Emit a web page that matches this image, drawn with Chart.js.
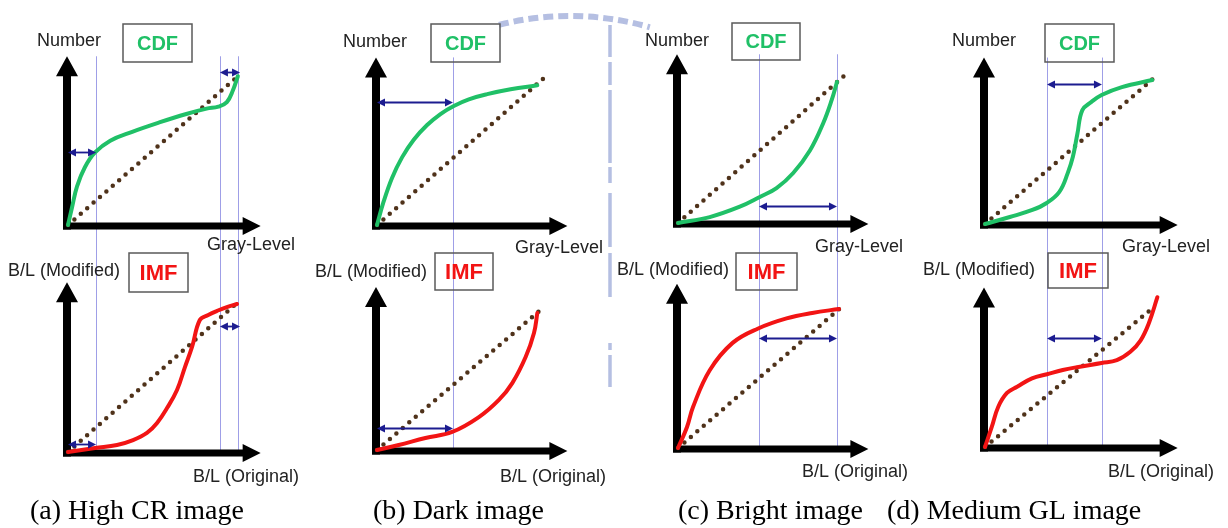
<!DOCTYPE html>
<html>
<head>
<meta charset="utf-8">
<script src="https://cdn.jsdelivr.net/npm/chart.js@4.4.1/dist/chart.umd.min.js"></script>
<style>
  html, body { margin: 0; padding: 0; background: #fff; }
  #wrap { position: relative; width: 1228px; height: 528px; overflow: hidden; }
  #wrap canvas { position: absolute; left: 0; top: 0; }
</style>
</head>
<body>
<div id="wrap"></div>
<script>
// captions of the four cases
const captions = ['(a) High CR image', '(b) Dark image', '(c) Bright image', '(d) Medium GL image'];

// reference line y = x
const diagonal = [[0, 0], [100, 100]];

// CDF curves (gray-level 0..100 -> number 0..100)
const cdfHighCR = [[0,0],[2.4,12],[5.3,26],[10,39],[16,49],[25,57],[38,63],[54,69.3],[70,75],[82,78.6],[89,80],[94,83],[97.6,91],[100.5,100.5]];
const cdfDark   = [[0,0],[4,16],[9,32],[15,46],[22,58],[30,68],[38,75.5],[46,81],[55,85.5],[66,89],[80,92.3],[96,95]];
const cdfBright = [[0,0],[19,4],[37,11],[49,17.6],[59,23.6],[69,33.8],[79,49],[87,67.6],[92,83],[95.2,95.3]];
const cdfMedium = [[0,0],[14.7,4.8],[28,9.6],[36.5,14.4],[44,22],[49,35],[52,46],[54.7,62],[57.6,78],[63,83.6],[69,88.4],[81,93.8],[99,98.6]];

// IMF curves (B/L original -> B/L modified)
const imfHighCR = [[0,0],[16,2.7],[29,4.7],[38.5,8],[46.7,12.8],[52.7,19.5],[58.6,29.5],[64.5,41.6],[69.2,57],[73.4,70.5],[78,88.6],[83,92],[88,94.6],[94,97.3],[100,99.3]];
const imfDark   = [[0,0],[13,3.5],[29,8.4],[45,12.6],[61,23],[73,35],[81,46.8],[89,65],[94,81.8],[96,95.8]];
const imfBright = [[0,0],[5.4,14.6],[9,28.5],[19,54],[32.7,73],[48,83],[65,90],[80.4,93.8],[96.4,96.5]];
const imfMedium = [[0,0],[4,14.3],[7.8,28.6],[13,38.6],[19,43],[27.8,49],[36.7,52],[46,55],[54.4,57],[69,60],[78,62],[86,68],[92,76],[97,88.6],[102,107]];

// vertical guide lines (gray-level values) per case
const guides = [[16.6, 89.9, 100.6], [45.5], [48.5, 95.2], [36.7, 69.2]];

// double arrows [from, to, level] per case
const cdfSpans = [[[0, 16.6, 49.3], [89.9, 101.8, 103.4]], [[0, 45.5, 83.7]], [[48.5, 95.2, 11.5]], [[36.7, 69.2, 95.9]]];
const imfSpans = [[[0, 16.6, 5.4], [89.9, 101.8, 84.6]], [[0, 45.5, 15.4]], [[48.5, 95.2, 76.4]], [[36.7, 69.2, 77.9]]];

// ---- layout (pixels) ----
const W = 1228, H = 528, splitY = 256, axisMax = 114;
const colX = [[68, 237], [377, 544], [678, 845], [985, 1154]];
const topY = [[225, 77], [225, 78], [223, 75], [224, 78]];
const botY = [[452, 303], [450, 307], [448, 304], [447, 307]];
const topText = [
  { num: [37, 41], gray: [207, 245], box: [123, 24, 192, 62] },
  { num: [343, 42], gray: [515, 248], box: [431, 24, 500, 62] },
  { num: [645, 41], gray: [815, 247], box: [732, 23, 800, 60] },
  { num: [952, 41], gray: [1122, 247], box: [1045, 24, 1114, 62] }
];
const botText = [
  { mod: [8, 271], orig: [193, 477], box: [129, 253, 188, 292], cap: [30, 512] },
  { mod: [315, 272], orig: [500, 477], box: [435, 253, 493, 290], cap: [373, 512] },
  { mod: [617, 270], orig: [802, 472], box: [736, 253, 797, 290], cap: [678, 512] },
  { mod: [923, 270], orig: [1108, 472], box: [1048, 253, 1108, 288], cap: [887, 512] }
];

const GREEN = '#20c067', RED = '#f21414', NAVY = '#1c1c90', GUIDE = 'rgba(95,95,215,0.6)';
const SANS = '"Liberation Sans", Arial, sans-serif';

function dblArrow(ctx, xa, xb, y) {
  ctx.beginPath();
  ctx.moveTo(xa + 4, y); ctx.lineTo(xb - 4, y);
  ctx.stroke();
  ctx.beginPath();
  ctx.moveTo(xa, y); ctx.lineTo(xa + 8, y - 4); ctx.lineTo(xa + 8, y + 4); ctx.closePath();
  ctx.moveTo(xb, y); ctx.lineTo(xb - 8, y - 4); ctx.lineTo(xb - 8, y + 4); ctx.closePath();
  ctx.fill();
}

function drawWatermark(ctx) {
  ctx.save();
  ctx.strokeStyle = '#b5bfe2';
  ctx.lineWidth = 6;
  ctx.setLineDash([10, 5]);
  ctx.beginPath();
  ctx.arc(570, 304, 288, -1.82, -1.29);
  ctx.stroke();
  ctx.setLineDash([]);
  ctx.lineWidth = 3.5;
  [[25, 57], [62, 85], [90, 163], [167, 183], [193, 247], [253, 297], [343, 350], [355, 387]].forEach(s => {
    ctx.beginPath(); ctx.moveTo(610, s[0]); ctx.lineTo(610, s[1]); ctx.stroke();
  });
  ctx.restore();
}

const sketchPlugin = {
  id: 'sketch',
  beforeDatasetsDraw(chart, args, o) {
    const ctx = chart.ctx, xs = chart.scales.x, ys = chart.scales.y;
    if (o.watermark) drawWatermark(ctx);
    ctx.save();
    // guide lines
    ctx.strokeStyle = GUIDE;
    ctx.lineWidth = 1;
    o.guides.forEach(g => {
      const px = Math.round(xs.getPixelForValue(g)) + 0.5;
      const ya = o.row === 'top' ? ys.getPixelForValue(axisMax) : splitY;
      const yb = o.row === 'top' ? splitY : ys.getPixelForValue(0);
      ctx.beginPath(); ctx.moveTo(px, ya); ctx.lineTo(px, yb); ctx.stroke();
    });
    // axes with arrows
    const x0 = xs.getPixelForValue(0) - 1, y0 = ys.getPixelForValue(0) + 1;
    const xTip = xs.getPixelForValue(axisMax), yTip = ys.getPixelForValue(axisMax);
    ctx.fillStyle = '#000';
    ctx.fillRect(x0 - 4, yTip + 18, 8, y0 + 3.5 - (yTip + 18));
    ctx.fillRect(x0 - 4, y0 - 3.5, xTip - 16 - (x0 - 4), 7);
    ctx.beginPath();
    ctx.moveTo(x0, yTip); ctx.lineTo(x0 - 11, yTip + 20); ctx.lineTo(x0 + 11, yTip + 20); ctx.closePath();
    ctx.moveTo(xTip, y0); ctx.lineTo(xTip - 18, y0 - 9); ctx.lineTo(xTip - 18, y0 + 9); ctx.closePath();
    ctx.fill();
    ctx.restore();
  },
  afterDatasetsDraw(chart, args, o) {
    const ctx = chart.ctx, xs = chart.scales.x, ys = chart.scales.y;
    ctx.save();
    ctx.strokeStyle = NAVY; ctx.fillStyle = NAVY; ctx.lineWidth = 1.8;
    o.spans.forEach(s => {
      dblArrow(ctx, xs.getPixelForValue(s[0]), xs.getPixelForValue(s[1]), Math.round(ys.getPixelForValue(s[2])) + 0.5);
    });
    // labels
    ctx.textBaseline = 'middle';
    ctx.textAlign = 'left';
    ctx.fillStyle = '#222';
    ctx.font = '18px ' + SANS;
    o.labels.forEach(l => ctx.fillText(l.t, l.at[0], l.at[1]));
    // boxed title
    const b = o.box;
    ctx.strokeStyle = '#5a5a5a'; ctx.lineWidth = 1.5;
    ctx.strokeRect(b.r[0], b.r[1], b.r[2] - b.r[0], b.r[3] - b.r[1]);
    ctx.fillStyle = b.color;
    ctx.font = 'bold ' + b.size + 'px ' + SANS;
    ctx.textAlign = 'center';
    ctx.fillText(b.t, (b.r[0] + b.r[2]) / 2, (b.r[1] + b.r[3]) / 2 + 1);
    if (o.caption) {
      ctx.fillStyle = '#000';
      ctx.textAlign = 'left';
      ctx.font = '28px "Liberation Serif", "Times New Roman", serif';
      ctx.fillText(o.caption.t, o.caption.at[0], o.caption.at[1]);
    }
    ctx.restore();
  }
};

const wrap = document.getElementById('wrap');
const toXY = arr => arr.map(p => ({ x: p[0], y: p[1] }));

function addPanel(col, row, curve, color, spans, pluginOpts) {
  const cv = document.createElement('canvas');
  cv.width = W; cv.height = H;
  wrap.appendChild(cv);
  const [ox, ex] = colX[col];
  const [oy, ey] = row === 'top' ? topY[col] : botY[col];
  new Chart(cv, {
    type: 'scatter',
    data: {
      datasets: [
        { data: toXY(curve), showLine: true, borderColor: color, borderWidth: 4, pointRadius: 0,
          tension: 0.4, borderCapStyle: 'round', clip: false },
        { data: toXY(diagonal), showLine: true, borderColor: '#4f321a', borderWidth: 4.5, pointRadius: 0,
          borderDash: [0, 8.5], borderCapStyle: 'round', clip: false }
      ]
    },
    options: {
      responsive: false,
      animation: false,
      events: [],
      layout: { padding: { left: ox, right: W - ex, top: ey, bottom: H - oy } },
      scales: {
        x: { type: 'linear', min: 0, max: 100, display: false },
        y: { type: 'linear', min: 0, max: 100, display: false }
      },
      plugins: {
        legend: { display: false },
        tooltip: { enabled: false },
        sketch: Object.assign({ row: row, guides: guides[col], spans: spans }, pluginOpts)
      }
    },
    plugins: [sketchPlugin]
  });
}

const cdfs = [cdfHighCR, cdfDark, cdfBright, cdfMedium];
const imfs = [imfHighCR, imfDark, imfBright, imfMedium];

for (let c = 0; c < 4; c++) {
  const tt = topText[c], bt = botText[c];
  addPanel(c, 'top', cdfs[c], GREEN, cdfSpans[c], {
    watermark: c === 1,
    labels: [{ t: 'Number', at: tt.num }, { t: 'Gray-Level', at: tt.gray }],
    box: { t: 'CDF', r: tt.box, color: GREEN, size: 20 }
  });
  addPanel(c, 'bottom', imfs[c], RED, imfSpans[c], {
    labels: [{ t: 'B/L (Modified)', at: bt.mod }, { t: 'B/L (Original)', at: bt.orig }],
    box: { t: 'IMF', r: bt.box, color: RED, size: 22 },
    caption: { t: captions[c], at: bt.cap }
  });
}
</script>
</body>
</html>
